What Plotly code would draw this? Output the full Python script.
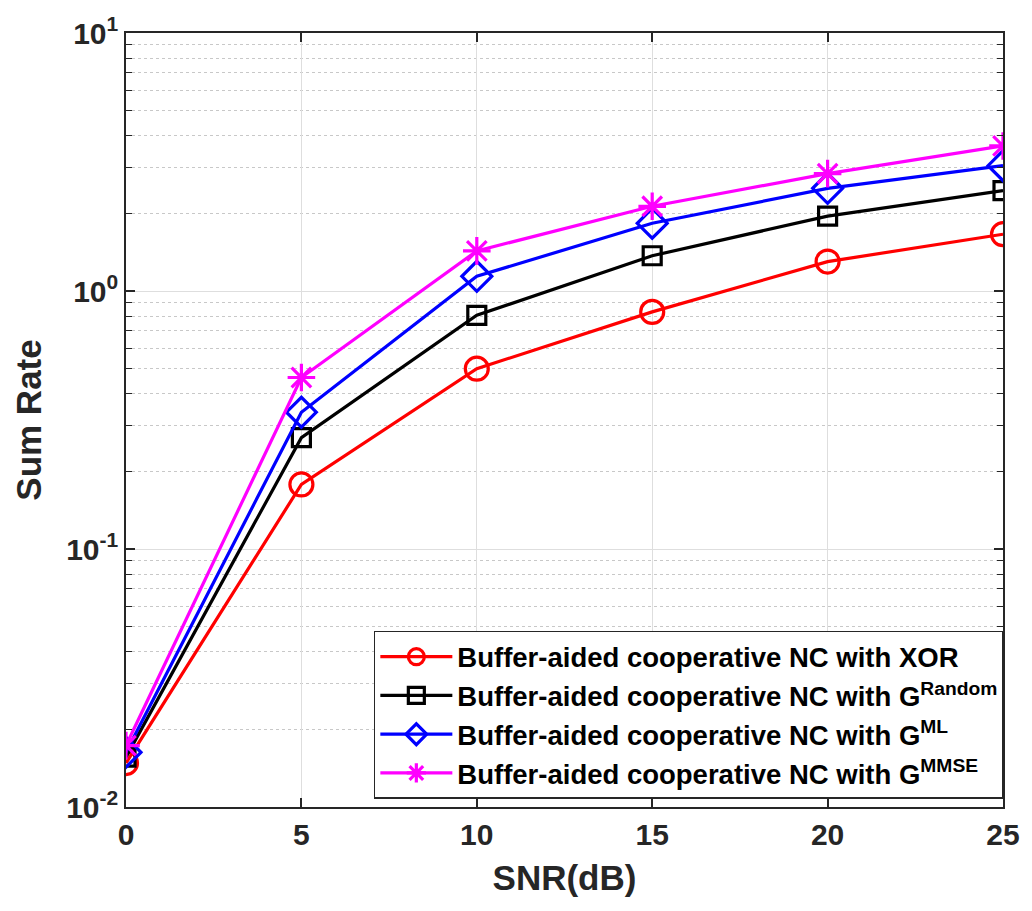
import plotly.graph_objects as go

# SNR points (dB)
snr_db = [0, 5, 10, 15, 20, 25]

# Sum rate for each network-coding scheme
rate_xor = [0.0148, 0.178, 0.50, 0.83, 1.30, 1.66]
rate_random = [0.0156, 0.27, 0.805, 1.37, 1.95, 2.45]
rate_ml = [0.0163, 0.339, 1.14, 1.83, 2.50, 3.06]
rate_mmse = [0.0173, 0.462, 1.43, 2.13, 2.85, 3.65]

series_names = [
    "Buffer-aided cooperative NC with XOR",
    "Buffer-aided cooperative NC with G<sup>Random</sup>",
    "Buffer-aided cooperative NC with G<sup>ML</sup>",
    "Buffer-aided cooperative NC with G<sup>MMSE</sup>",
]

x_ticks = [0, 5, 10, 15, 20, 25]
y_tick_vals = [0.01, 0.1, 1, 10]
y_tick_text = ["10<sup>-2</sup>", "10<sup>-1</sup>", "10<sup>0</sup>", "10<sup>1</sup>"]

FONT = "Liberation Sans, Arial, Helvetica, sans-serif"
AXIS_COLOR = "#262626"

styles = [
    dict(color="#ff0000", symbol="circle-open", size=23),
    dict(color="#000000", symbol="square-open", size=18),
    dict(color="#0000ff", symbol="diamond-open", size=23),
    dict(color="#ff00ff", symbol="asterisk-open", size=23),
]

fig = go.Figure()
for i, (name, ys, st) in enumerate(zip(series_names,
                                        [rate_xor, rate_random, rate_ml, rate_mmse],
                                        styles)):
    fig.add_trace(go.Scatter(
        x=snr_db, y=ys, name=name, mode="lines+markers",
        legendgroup=f"g{i}",
        line=dict(color=st["color"], width=3.2),
        marker=dict(symbol=st["symbol"], size=st["size"],
                    color=st["color"], line=dict(color=st["color"], width=3.2)),
    ))

# minor decade subdivisions for the log axis
minor_vals = [m * 10.0 ** k for k in (-2, -1, 0) for m in range(2, 10)]

fig.update_layout(
    width=1032, height=911,
    margin=dict(l=126, r=25, t=25, b=104),
    paper_bgcolor="white", plot_bgcolor="white",
    font=dict(family=FONT, color=AXIS_COLOR, size=28, weight="bold"),
    showlegend=True,
    legend=dict(
        x=0.2826, y=0.2276, xanchor="left", yanchor="top",
        bgcolor="white", bordercolor=AXIS_COLOR, borderwidth=1.5,
        font=dict(family=FONT, size=27.5, color="#000000", weight="bold"),
        itemwidth=72, tracegroupgap=0,
    ),
)

fig.update_xaxes(
    range=[0, 25], tickvals=x_ticks, ticks="inside", ticklen=9, tickwidth=1.5,
    tickcolor=AXIS_COLOR, showline=True, linecolor=AXIS_COLOR, linewidth=1.5,
    mirror="allticks", showgrid=True, gridcolor="#dedede", gridwidth=1,
    zeroline=False,
    tickfont=dict(family=FONT, size=30, color=AXIS_COLOR, weight="bold"),
    title=dict(text="SNR(dB)", standoff=16,
               font=dict(family=FONT, size=35, color=AXIS_COLOR, weight="bold")),
)

fig.update_yaxes(
    type="log", range=[-2, 1], tickvals=y_tick_vals, ticktext=y_tick_text,
    ticks="inside", ticklen=9, tickwidth=1.5, tickcolor=AXIS_COLOR,
    showline=True, linecolor=AXIS_COLOR, linewidth=1.5, mirror="allticks",
    showgrid=True, gridcolor="#dedede", gridwidth=1, zeroline=False,
    tickfont=dict(family=FONT, size=30, color=AXIS_COLOR, weight="bold"),
    minor=dict(tickvals=minor_vals, ticks="inside", ticklen=6, tickwidth=1.2,
               tickcolor=AXIS_COLOR, showgrid=True, gridcolor="#c8c8c8",
               griddash="dot", gridwidth=1),
    title=dict(text="Sum Rate", standoff=14,
               font=dict(family=FONT, size=35, color=AXIS_COLOR, weight="bold")),
)

fig.write_html("out.html")
